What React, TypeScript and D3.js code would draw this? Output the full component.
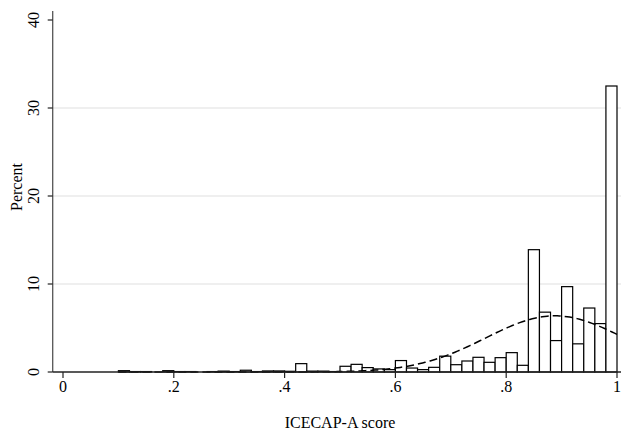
import React, { useEffect, useRef } from "react";
import * as d3 from "d3";

// histogram bins, width .02, left edges from .10 to .98
const binStart = 0.1;
const binWidth = 0.02;
const percents = [
  0.15, 0.05, 0.05, 0.0, 0.15, 0.05, 0.05, 0.0, 0.05, 0.1,
  0.05, 0.2, 0.05, 0.12, 0.12, 0.08, 0.95, 0.1, 0.1, 0.05,
  0.65, 0.87, 0.5, 0.35, 0.27, 1.3, 0.45, 0.27, 0.53, 1.8,
  0.83, 1.25, 1.67, 1.1, 1.63, 2.2, 0.76, 13.9, 6.8, 3.57,
  9.7, 3.2, 7.27, 5.5, 32.5,
];
// normal density overlay
const normMean = 0.888;
const normSd = 0.125;

const xTicks = [0, 0.2, 0.4, 0.6, 0.8, 1];
const xTickLabels = ["0", ".2", ".4", ".6", ".8", "1"];
const yTicks = [0, 10, 20, 30, 40];
const yGrid = [10, 20, 30];

function Histogram() {
  const ref = useRef<SVGSVGElement>(null);

  useEffect(() => {
    const svg = d3.select(ref.current);
    svg.selectAll("*").remove();

    const font = "'Liberation Serif', 'Times New Roman', serif";
    const fs = 16;
    const x = d3.scaleLinear().domain([0, 1]).range([63, 617]);
    const y = d3.scaleLinear().domain([0, 40]).range([372, 20]);
    const axisX = 52.7;

    svg.append("rect").attr("width", 623).attr("height", 435).attr("fill", "#fff");

    // grid
    svg.append("g")
      .selectAll("line")
      .data(yGrid)
      .join("line")
      .attr("x1", axisX)
      .attr("x2", 621)
      .attr("y1", (d) => y(d))
      .attr("y2", (d) => y(d))
      .attr("stroke", "#eaeaea")
      .attr("stroke-width", 1.5);

    // bars
    svg.append("g")
      .selectAll("rect")
      .data(percents)
      .join("rect")
      .attr("x", (d, i) => x(binStart + i * binWidth))
      .attr("width", x(binWidth) - x(0))
      .attr("y", (d) => y(d))
      .attr("height", (d) => y(0) - y(d))
      .attr("fill", "#fff")
      .attr("stroke", "#000")
      .attr("stroke-width", 1.2);

    // normal curve, scaled to percent per bin
    const pts = d3.range(0, 201).map((i) => binStart + (i / 200) * (1 - binStart));
    const dens = (v: number) =>
      (100 * binWidth * Math.exp(-((v - normMean) ** 2) / (2 * normSd * normSd))) /
      (normSd * Math.sqrt(2 * Math.PI));
    const line = d3.line<number>().x((d) => x(d)).y((d) => y(dens(d)));
    svg.append("path")
      .datum(pts)
      .attr("d", line)
      .attr("fill", "none")
      .attr("stroke", "#000")
      .attr("stroke-width", 1.5)
      .attr("stroke-dasharray", "8,4");

    // axes
    svg.append("line")
      .attr("x1", axisX).attr("x2", axisX)
      .attr("y1", 11).attr("y2", y(0))
      .attr("stroke", "#555").attr("stroke-width", 1.3);
    svg.append("line")
      .attr("x1", axisX).attr("x2", 621)
      .attr("y1", y(0)).attr("y2", y(0))
      .attr("stroke", "#222").attr("stroke-width", 1.3);

    const yt = svg.append("g").selectAll("g").data(yTicks).join("g");
    yt.append("line")
      .attr("x1", axisX - 5).attr("x2", axisX)
      .attr("y1", (d) => y(d)).attr("y2", (d) => y(d))
      .attr("stroke", "#222").attr("stroke-width", 1.2);
    yt.append("text")
      .attr("transform", (d) => `translate(39,${y(d)}) rotate(-90)`)
      .attr("text-anchor", "middle")
      .attr("font-family", font)
      .attr("font-size", fs)
      .text((d) => String(d));

    const xt = svg.append("g").selectAll("g").data(xTicks).join("g");
    xt.append("line")
      .attr("x1", (d) => x(d)).attr("x2", (d) => x(d))
      .attr("y1", y(0)).attr("y2", y(0) + 6)
      .attr("stroke", "#222").attr("stroke-width", 1.2);
    xt.append("text")
      .attr("x", (d) => x(d))
      .attr("y", 392)
      .attr("text-anchor", "middle")
      .attr("font-family", font)
      .attr("font-size", fs)
      .text((d, i) => xTickLabels[i]);

    svg.append("text")
      .attr("x", x(0.5))
      .attr("y", 428)
      .attr("text-anchor", "middle")
      .attr("font-family", font)
      .attr("font-size", fs)
      .text("ICECAP-A score");

    svg.append("text")
      .attr("transform", "translate(22,187) rotate(-90)")
      .attr("text-anchor", "middle")
      .attr("font-family", font)
      .attr("font-size", fs)
      .text("Percent");
  }, []);

  return (
    <svg
      ref={ref}
      width={623}
      height={435}
      style={{ position: "absolute", left: 0, top: 0, display: "block" }}
    />
  );
}

export default function App() {
  return <Histogram />;
}
